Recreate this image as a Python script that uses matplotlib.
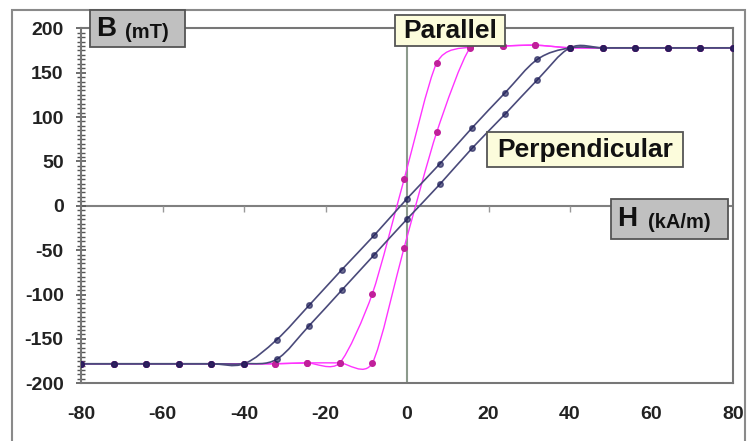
import matplotlib
matplotlib.use("Agg")
import matplotlib.pyplot as plt
import numpy as np
from matplotlib.path import Path
from matplotlib.patches import PathPatch, Rectangle

plt.rcParams['font.family'] = ['Liberation Sans', 'DejaVu Sans']
plt.rcParams['axes.unicode_minus'] = False

# Perpendicular loop (two branches)
perp_down_H = [80, 72, 64, 56, 48, 40, 32, 24, 16, 8, 0, -8, -16, -24, -32, -40, -48, -56, -64, -72, -80]
perp_down_B = [178, 178, 178, 178, 178, 178, 165, 127, 88, 47, 8, -33, -72, -112, -151, -178, -178, -178, -178, -178, -178]
perp_up_H = [-80, -72, -64, -56, -48, -40, -32, -24, -16, -8, 0, 8, 16, 24, 32, 40, 48, 56, 64, 72, 80]
perp_up_B = [-178, -178, -178, -178, -178, -178, -173, -135, -95, -55, -15, 24, 65, 103, 142, 178, 178, 178, 178, 178, 178]

# Parallel loop (two branches)
par_down_H = [80, 72, 64, 56, 48, 40, 31.5, 23.5, 15.5, 7.3, -0.7, -8.5, -16.5, -24.5, -32.5, -40, -48, -56, -64, -72, -80]
par_down_B = [178, 178, 178, 178, 178, 178, 181, 180, 179, 161, 30, -99, -177, -177, -178, -178, -178, -178, -178, -178, -178]
par_up_H = [-80, -72, -64, -56, -48, -40, -32.5, -24.5, -16.5, -8.5, -0.7, 7.3, 15.5, 23.5, 31.5, 40, 48, 56, 64, 72, 80]
par_up_B = [-178, -178, -178, -178, -178, -178, -178, -177, -177, -177, -47, 83, 178, 180, 181, 178, 178, 178, 178, 178, 178]

x_ticks = [-80, -60, -40, -20, 0, 20, 40, 60, 80]
y_ticks = [-200, -150, -100, -50, 0, 50, 100, 150, 200]
axis_ticks = [-60, -40, -20, 20, 40, 60]

W, H = 750, 441


def px(x, y):
    return x / W, 1 - y / H


def smooth_path(xs, ys, k=6.0):
    # excel-like smoothed line: bezier segments through the points
    p = np.column_stack([xs, ys]).astype(float)
    n = len(p)
    verts = [p[0]]
    codes = [Path.MOVETO]
    for i in range(n - 1):
        p0 = p[i - 1] if i > 0 else p[i]
        p3 = p[i + 2] if i + 2 < n else p[i + 1]
        c1 = p[i] + (p[i + 1] - p0) / k
        c2 = p[i + 1] - (p3 - p[i]) / k
        verts += [c1, c2, p[i + 1]]
        codes += [Path.CURVE4] * 3
    return Path(verts, codes)


fig = plt.figure(figsize=(7.5, 4.41), dpi=100)
l, b = px(81, 383.3)
r, t = px(733, 28.3)
ax = fig.add_axes([l, b, r - l, t - b])
ax.set_xlim(-80, 80)
ax.set_ylim(-200, 200)

for s in ax.spines.values():
    s.set_color('#777777')
    s.set_linewidth(1.5)

ax.axhline(0, color='#808080', lw=1.5, zorder=1)
ax.axvline(0, color='#8c9a8c', lw=1.5, zorder=1)
ax.plot(axis_ticks, [0] * len(axis_ticks), ls='none', marker=3, ms=4,
        mew=1, color='#999999', zorder=1)

perp_line = '#4a4a7a'
perp_dot = '#1e1e58'
par_line = '#ff33ff'
par_dot = '#c0209a'

for hs, bs in [(par_down_H, par_down_B), (par_up_H, par_up_B)]:
    ax.add_patch(PathPatch(smooth_path(hs, bs, 8.0), fill=False, ec=par_line, lw=1.0, zorder=2))
    ax.plot(hs, bs, ls='none', marker='o', ms=4, color=par_dot, zorder=3)

for hs, bs in [(perp_down_H, perp_down_B), (perp_up_H, perp_up_B)]:
    ax.add_patch(PathPatch(smooth_path(hs, bs), fill=False, ec=perp_line, lw=1.2, zorder=2))
    ax.plot(hs, bs, ls='none', marker='o', ms=4, color=perp_dot, alpha=0.65, zorder=4)

ax.set_xticks(x_ticks)
ax.set_yticks(y_ticks)
ax.set_yticks(np.arange(-200, 201, 5), minor=True)
ax.tick_params(axis='x', length=0, pad=16, labelsize=14, labelcolor='#222222')
ax.tick_params(axis='y', which='major', direction='inout', length=7, width=1.2,
               color='#555555', pad=9, labelsize=14, labelcolor='#222222')
ax.tick_params(axis='y', which='minor', direction='inout', length=6, width=1.0,
               color='#555555')
for lab in ax.get_xticklabels() + ax.get_yticklabels():
    lab.set_fontweight('bold')

# outer frame
x0, y0 = px(12, 10)
x1, y1 = px(745, 445)
fig.patches.append(Rectangle((x0, y1), x1 - x0, y0 - y1, transform=fig.transFigure,
                             fill=False, ec='#8a8a8a', lw=1.5, clip_on=False))


def box(xa, ya, xb, yb, fc):
    bx0, by0 = px(xa, yb)
    bx1, by1 = px(xb, ya)
    fig.patches.append(Rectangle((bx0, by0), bx1 - bx0, by1 - by0, transform=fig.transFigure,
                                 fc=fc, ec='#555555', lw=1.3, zorder=5))


box(90, 10, 185, 47, '#c0c0c0')
fig.text(*px(96, 29), 'B', fontsize=20, fontweight='bold', color='#111111',
         ha='left', va='center', zorder=6)
fig.text(*px(125, 32), '(mT)', fontsize=14.5, fontweight='bold', color='#111111',
         ha='left', va='center', zorder=6)

box(611, 199, 728, 239, '#c0c0c0')
fig.text(*px(617, 219), 'H', fontsize=20, fontweight='bold', color='#111111',
         ha='left', va='center', zorder=6)
fig.text(*px(648, 222), '(kA/m)', fontsize=14.5, fontweight='bold', color='#111111',
         ha='left', va='center', zorder=6)

box(395, 15, 505, 46, '#fcfcdc')
fig.text(*px(450, 31), 'Parallel', fontsize=19, fontweight='bold', color='#111111',
         ha='center', va='center', zorder=6)

box(487, 132, 683, 167, '#fcfcdc')
fig.text(*px(585, 150), 'Perpendicular', fontsize=19, fontweight='bold', color='#111111',
         ha='center', va='center', zorder=6)

fig.savefig('out.png', dpi=100)
